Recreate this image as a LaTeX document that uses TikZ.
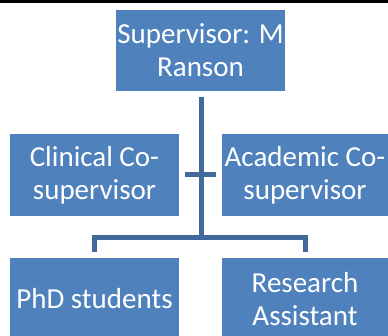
\documentclass[tikz,border=0pt]{standalone}
\usepackage{fontspec}
\setmainfont{Carlito}
\usepackage{tikz}

\definecolor{boxblue}{HTML}{4F81BD}
\definecolor{linkblue}{HTML}{41699B}

\tikzset{
    role/.style={fill=boxblue, draw=none, text=white, align=center,
                 inner sep=0pt, minimum width=169pt, minimum height=82pt,
                 font=\fontsize{29}{33}\selectfont},
    link/.style={draw=linkblue, line width=5pt, line join=miter}
}

\begin{document}
\begin{tikzpicture}[x=1pt,y=1pt]

   % Frame
   \useasboundingbox (0,0) rectangle (388,335);
   \fill[black] (0,332) rectangle (388,335);

   % Boxes
   \node[role, minimum height=81pt] (sup) at (200.5,284.5) {Supervisor: M\\Ranson};

   \node[role] (clin) at (94.5,160) {Clinical Co-\\supervisor};
   \node[role, minimum width=166pt] (acad) at (305,160) {Academic Co-\\supervisor};

   \node[role] (phd) at (94.5,36) {PhD students};
   \node[role, minimum width=166pt] (res) at (305,36) {Research\\Assistant};

   % Connectors
   \coordinate (hub) at (201,98);
   \draw[link, shorten <=6pt] (sup.south -| hub) -- (hub);
   \draw[link, shorten <=6pt, shorten >=6pt] (clin.east) -- (acad.west);
   \draw[link, shorten <=6pt, shorten >=6pt]
        (phd.north) -- (phd.north |- hub) -- (res.north |- hub) -- (res.north);

\end{tikzpicture}
\end{document}
